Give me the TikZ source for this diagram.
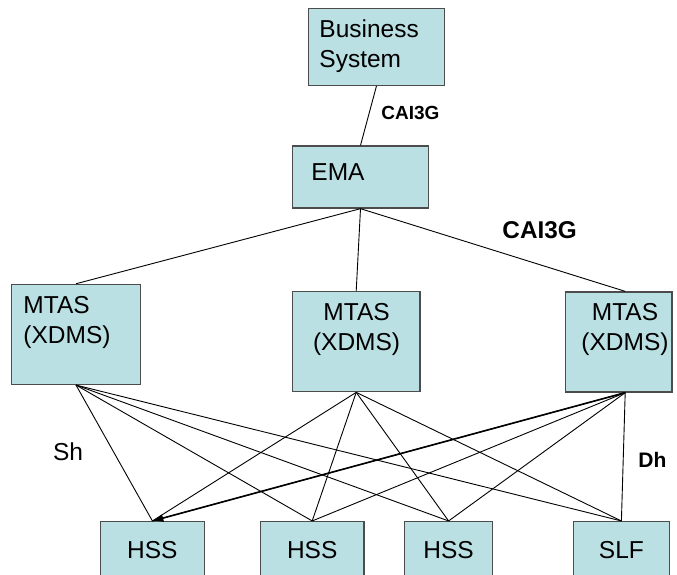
\documentclass[tikz,border=0pt]{standalone}
\usepackage{fontspec}
\setmainfont{Liberation Sans}
\usepackage{tikz}
\usetikzlibrary{arrows.meta}

\definecolor{boxfill}{RGB}{187,224,227}
\tikzset{
  box/.style={draw=black!70, fill=boxfill, line width=1.3pt, inner sep=0pt},
  txt/.style={inner sep=0pt, anchor=base, font=\fontsize{24.5}{30}\selectfont},
  lbl/.style={inner sep=0pt, anchor=base west},
}

\begin{document}
\begin{tikzpicture}[x=1pt, y=-1pt, line width=0.9pt]
  \useasboundingbox (0,0) rectangle (677,574);
  \clip (0,0) rectangle (677,574);

  \node[box, minimum width=136.4, minimum height=76.5] (Business) at (376.5,47) {};
  \node[box, minimum width=136.5, minimum height=62] (EMA) at (360.5,177) {};
  \node[box, minimum width=128.6, minimum height=100] (MTASl) at (76,334.4) {};
  \node[box, minimum width=127.8, minimum height=100] (MTASc) at (356.2,341.7) {};
  \node[box, minimum width=106.8, minimum height=100] (MTASr) at (618.6,342) {};
  \node[box, minimum width=103.6, minimum height=62] (HSSa) at (152.4,552.6) {};
  \node[box, minimum width=103.6, minimum height=62] (HSSb) at (312.2,552.6) {};
  \node[box, minimum width=88, minimum height=62] (HSSc) at (448.6,552.6) {};
  \node[box, minimum width=96, minimum height=62] (SLF) at (621.4,552.6) {};

  % multi-line texts sit on the baseline of their last line
  \node[txt, anchor=base west, align=left] (BusinessText) at (319,67) {Business\\System};
  \node[txt, anchor=base west] (EMAText) at (311,180) {EMA};
  \node[txt, anchor=base west, align=left] (MTASlText) at (23,343) {MTAS\\(XDMS)};
  \node[txt, align=center] (MTAScText) at (356.6,350) {MTAS\\(XDMS)};
  \node[txt, align=center] (MTASrText) at (625,350) {MTAS\\(XDMS)};
  \node[txt] (HSSaText) at (152.4,558) {HSS};
  \node[txt] (HSSbText) at (312.2,558) {HSS};
  \node[txt] (HSScText) at (448.6,558) {HSS};
  \node[txt] (SLFText) at (621.4,558) {SLF};

  \node[lbl, font=\fontsize{19}{22}\selectfont\bfseries] (CAIup) at (381,119) {CAI3G};
  \node[lbl, font=\fontsize{24.3}{28}\selectfont\bfseries] (CAIdown) at (502,238.6) {CAI3G};
  \node[lbl, font=\fontsize{24.5}{28}\selectfont] (Sh) at (52.7,460.5) {Sh};
  \node[lbl, font=\fontsize{21}{24}\selectfont\bfseries] (Dh) at (638,467.5) {Dh};

  \draw (Business.south) -- (EMA.north);
  \draw (EMA.south) -- (MTASl.north);
  \draw (EMA.south) -- (MTASc.north);
  \draw (EMA.south) -- ([xshift=6.6]MTASr.north);

  \foreach \m/\dx in {MTASl/0, MTASc/0, MTASr/6.6}
    \foreach \t in {HSSa, HSSb, HSSc, SLF}
      \draw ([xshift=\dx]\m.south) -- (\t.north);
  \draw[->, >={Latex[length=11pt,width=8pt]}, line width=1.6pt] ([xshift=6.6]MTASr.south) -- (HSSa.north);
\end{tikzpicture}
\end{document}
